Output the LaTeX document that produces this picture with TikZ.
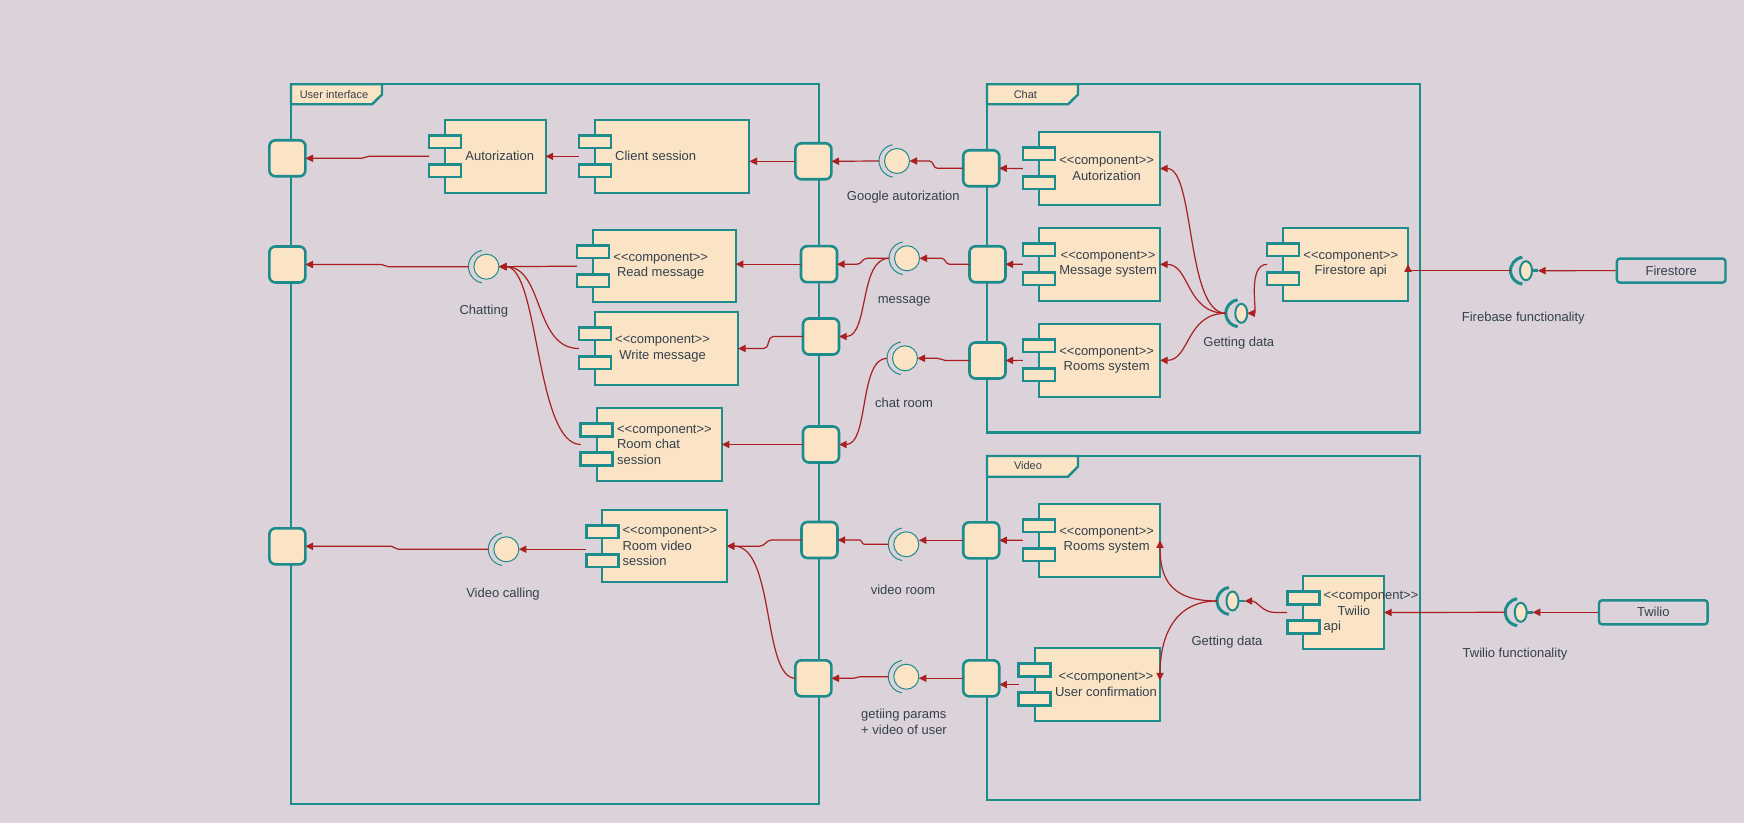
\documentclass[tikz,border=0pt]{standalone}
\usepackage{fontspec}
\setmainfont{Liberation Sans}
\usetikzlibrary{calc,arrows.meta,shapes.geometric}

\definecolor{bgmauve}{HTML}{DBD2DA}
\definecolor{uiteal}{HTML}{1C8C8C}
\definecolor{uibeige}{HTML}{FBE4C6}
\definecolor{uired}{HTML}{AA1F1F}
\definecolor{uitext}{HTML}{34404C}

\newcommand{\stereo}{<\kern0pt<component>\kern0pt>}

\tikzset{
	frame/.style={draw=uiteal, line width=1.2pt},
	tabbox/.style={draw=uiteal, fill=uibeige, line width=1.2pt},
	comp/.style={draw=uiteal, fill=uibeige, line width=1pt, inner sep=0pt, outer sep=0pt, minimum height=36.3pt},
	lug/.style={draw=uiteal, fill=uibeige, line width=1.3pt},
	port/.style={draw=uiteal, fill=uibeige, line width=1.3pt, rounded corners=3pt, minimum size=18pt, inner sep=0pt, outer sep=0pt},
	ball/.style={circle, draw=uiteal, fill=uibeige, line width=0.5pt, minimum size=12.5pt, inner sep=0pt, outer sep=0pt},
	bigball/.style={ellipse, draw=uiteal, fill=uibeige, line width=1pt, minimum width=6pt, minimum height=9.5pt, inner sep=0pt, outer sep=0pt},
	sock/.style={draw=uiteal, line width=0.5pt},
	bigsock/.style={draw=uiteal, line width=1.5pt},
	link/.style={draw=uired, line width=0.6pt, -{Triangle[length=3.8pt,width=3.6pt]}},
	txt/.style={text=uitext, font=\fontsize{6.5}{7.7}\selectfont, inner sep=0pt},
	tabtxt/.style={text=uitext, font=\fontsize{5.5}{6.6}\selectfont, inner sep=0pt},
	extbox/.style={draw=uiteal, fill=bgmauve, line width=1.2pt, rounded corners=1.5pt, minimum width=54.3pt, minimum height=12pt, inner sep=0pt, text=uitext, font=\fontsize{6.5}{7.7}\selectfont}
}

\begin{document}
\begin{tikzpicture}[x=0.5pt, y=-0.5pt]
	% Background
	\fill[bgmauve] (0,0) rectangle (1744,823);

	% Frames and their tabs
	\draw[frame] (291,84.3) rectangle (819,804); % user interface
	\draw[tabbox] (291,84.3) -- (382,84.3) -- (382,94.5) -- (372,104.3) -- (291,104.3) -- cycle;
	\node[tabtxt] (uitab) at (334,95) {User interface};
	\draw[frame] (987,84.3) rectangle (1420,432.3); % chat
	\draw[tabbox] (987,84.3) -- (1078,84.3) -- (1078,94.5) -- (1068,104.3) -- (987,104.3) -- cycle;
	\node[tabtxt] (chattab) at (1025.4,95) {Chat};
	\draw[frame] (987,456) rectangle (1420,800); % video
	\draw[tabbox] (987,456) -- (1078,456) -- (1078,466.5) -- (1068,476.7) -- (987,476.7) -- cycle;
	\node[tabtxt] (videotab) at (1028,466) {Video};

	% Ports on the frame edges
	\node[port] (L1) at (287.4,158.3) {};
	\node[port] (L2) at (287.4,264.5) {};
	\node[port] (L3) at (287.4,546.3) {};
	\node[port] (R1) at (813.4,161.3) {};
	\node[port] (R2) at (819,264.2) {};
	\node[port] (R3) at (821,336.5) {};
	\node[port] (R4) at (821,444.5) {};
	\node[port] (R5) at (819.5,540) {};
	\node[port] (R6) at (813.4,678.3) {};
	\node[port] (C1) at (981.2,168.3) {};
	\node[port] (C2) at (987.5,264.3) {};
	\node[port] (C3) at (987.5,360.5) {};
	\node[port] (V1) at (981.2,540.3) {};
	\node[port] (V2) at (981.2,678.3) {};

	% Component bodies
	\node[comp, minimum width=50.3pt] (uauth) at (495.3,156.35) {};
	\node[comp, minimum width=77.3pt] (client) at (672.1,156.35) {};
	\node[comp, minimum width=71.35pt] (readmsg) at (664.35,266.15) {};
	\node[comp, minimum width=71.6pt] (writemsg) at (666.4,348.5) {};
	\node[comp, minimum width=62.5pt] (roomchat) at (659.2,444.5) {};
	\node[comp, minimum width=62.3pt] (roomvideo) at (664.5,546.15) {};
	\node[comp, minimum width=60.55pt] (cauth) at (1099.45,168.5) {};
	\node[comp, minimum width=60.55pt] (msgsys) at (1099.45,264.35) {};
	\node[comp, minimum width=60.55pt] (croom) at (1099.45,360.35) {};
	\node[comp, minimum width=62.5pt] (fsapi) at (1345.5,264.35) {};
	\node[comp, minimum width=60.55pt] (vroom) at (1099.45,540.35) {};
	\node[comp, minimum width=62.7pt] (userconf) at (1097.3,684.5) {};
	\node[comp, minimum width=40.4pt] (twapi) at (1343.6,612.5) {};

	% the two small rectangles of every component
	\pgfmathsetmacro{\lugw}{32}
	\pgfmathsetmacro{\lugh}{12.5}
	\foreach \c in {uauth,client,readmsg,writemsg,roomchat,roomvideo,cauth,msgsys,croom,fsapi,vroom,userconf,twapi}{
		\draw[lug] ($(\c.north west)+(-16,15.5)$) rectangle ++(\lugw,\lugh);
		\draw[lug] ($(\c.north west)+(-16,44.5)$) rectangle ++(\lugw,\lugh);
	}

	% Component texts
	\node[txt, anchor=west] (uauth-t) at ($(uauth.west)+(20,0)$) {Autorization};
	\node[txt, anchor=west] (client-t) at ($(client.west)+(20,0)$) {Client session};
	\node[txt, anchor=west, align=center] (readmsg-t) at ($(readmsg.west)+(20,0)$) {\stereo\\Read message};
	\node[txt, anchor=west, align=center] (writemsg-t) at ($(writemsg.west)+(20,0)$) {\stereo\\Write message};
	\node[txt, anchor=west, align=left] (roomchat-t) at ($(roomchat.west)+(20,0)$) {\stereo\\Room chat\\session};
	\node[txt, anchor=west, align=left] (roomvideo-t) at ($(roomvideo.west)+(20,0)$) {\stereo\\Room video\\session};
	\node[txt, anchor=west, align=center] (cauth-t) at ($(cauth.west)+(20,0)$) {\stereo\\Autorization};
	\node[txt, anchor=west, align=center] (msgsys-t) at ($(msgsys.west)+(20,0)$) {\stereo\\Message system};
	\node[txt, anchor=west, align=center] (croom-t) at ($(croom.west)+(20,0)$) {\stereo\\Rooms system};
	\node[txt, anchor=west, align=center] (fsapi-t) at ($(fsapi.west)+(20,0)$) {\stereo\\Firestore api};
	\node[txt, anchor=west, align=center] (vroom-t) at ($(vroom.west)+(20,0)$) {\stereo\\Rooms system};
	\node[txt, anchor=west, align=center] (userconf-t) at ($(userconf.west)+(20,0)$) {\stereo\\User confirmation};
	\node[txt, anchor=west, align=left] (twapi-t) at ($(twapi.west)+(20,0)$) {\stereo\\\hspace*{7pt}Twilio\\api};

	% Outer systems
	\node[extbox] (firestore) at (1671.2,270.6) {Firestore};
	\node[extbox] (twilio) at (1653.3,612.3) {Twilio};

	% Interfaces, thin ones inside the user interface
	\node[ball] (chatting) at (486.4,266.7) {};
	\node[ball] (vcall) at (506.3,549.3) {};
	\node[ball] (gauth) at (897,161) {};
	\node[ball] (msgif) at (907,258.3) {};
	\node[ball] (roomif) at (905,358.3) {};
	\node[ball] (vroomif) at (906.3,544.3) {};
	\node[ball] (paramif) at (906.3,676.7) {};
	\foreach \i in {chatting,vcall,gauth,msgif,roomif,vroomif,paramif}{
		\draw[sock] ($(\i.center)+(-1.5,0)+(100:8.25pt)$) arc[start angle=100, end angle=260, radius=8.25pt];
		\coordinate (\i-s) at ($(\i.center)+(-18,0)$);
	}
	% thick ones
	\node[bigball] (getchat) at (1241.3,313.3) {};
	\node[bigball] (getvid) at (1232.5,601) {};
	\node[bigball] (fbif) at (1526,270.7) {};
	\node[bigball] (twif) at (1520.7,612.3) {};
	\foreach \i in {getchat,getvid,fbif,twif}{
		\draw[bigsock] ($(\i.center)+(-2,0)+(97:6.75pt)$) arc[start angle=97, end angle=263, radius=6.75pt];
		\coordinate (\i-s) at ($(\i.center)+(-15.5,0)$);
	}
	\foreach \i in {getvid,fbif,twif}{
		\draw[draw=uiteal, line width=1.2pt] (\i.east) -- ++(6,0) coordinate (\i-t);
	}

	% Interface labels
	\node[txt] (chatting-l) at (483.8,310.7) {Chatting};
	\node[txt] (vcall-l) at (503,594.3) {Video calling};
	\node[txt] (gauth-l) at (903.3,197.3) {Google autorization};
	\node[txt] (msgif-l) at (904.2,301.7) {message};
	\node[txt] (roomif-l) at (904,403.3) {chat room};
	\node[txt] (vroomif-l) at (903,590) {video room};
	\node[txt, align=left] (paramif-l) at (904,722) {getiing params\\+ video of user};
	\node[txt] (getchat-l) at (1238.8,342.7) {Getting data};
	\node[txt] (getvid-l) at (1227,642.3) {Getting data};
	\node[txt] (fbif-l) at (1523.3,318.3) {Firebase functionality};
	\node[txt] (twif-l) at (1515,654.3) {Twilio functionality};

	% Connectors in the user interface
	\draw[link] ($(uauth.west)+(-16,0)$) -- ++(-60,0) to[out=180,in=0] ($(L1.east)+(56,0)$) -- (L1.east);
	\draw[link] ($(client.west)+(-16,0)$) -- (uauth.east);
	\draw[link] (R1.west) -- (R1.west -| client.east);
	\draw[link] ($(readmsg.west)+(-16,0)$) -- (chatting.east);
	\draw[link] (chatting-s) -- ++(-80,0) to[out=180,in=0] ($(L2.east)+(76,0)$) -- (L2.east);
	\draw[link] ($(writemsg.west)+(-16,0)$) .. controls +(-45,0) and +(45,0) .. (chatting.east);
	\draw[link] ($(roomchat.west)+(-16,0)$) .. controls +(-45,0) and +(40,0) .. (chatting.east);
	\draw[link] (R2.west) -- (R2.west -| readmsg.east);
	\draw[link] (R3.west) -- ++(-30,0) to[out=180,in=0] ($(writemsg.east)+(26,0)$) -- (writemsg.east);
	\draw[link] (R4.west) -- (roomchat.east);
	\draw[link] (R5.west) -- ++(-30,0) to[out=180,in=0] ($(roomvideo.east)+(33,0)$) -- (roomvideo.east);
	\draw[link] ($(vcall.east -| roomvideo.west)+(-16,0)$) -- (vcall.east);
	\draw[link] (vcall-s) -- ++(-90,0) to[out=180,in=0] ($(L3.east)+(86,0)$) -- (L3.east);
	\draw[link] (R6.west) .. controls +(-33,0) and +(48,0) .. (roomvideo.east);

	% Connectors between the frames
	\draw[link] (gauth-s) -- (R1.east);
	\draw[link] (C1.west) -- ++(-26,0) to[out=180,in=0] ($(gauth.east)+(20,0)$) -- (gauth.east);
	\draw[link] (msgif-s) -- ++(-22,0) to[out=180,in=0] ($(R2.east)+(20,0)$) -- (R2.east);
	\draw[link] (msgif-s) .. controls +(-30,0) and +(30,0) .. (R3.east);
	\draw[link] (C2.west) -- ++(-20,0) to[out=180,in=0] ($(msgif.east)+(22,0)$) -- (msgif.east);
	\draw[link] (C3.west) -- ++(-24,0) to[out=180,in=0] ($(roomif.east)+(20,0)$) -- (roomif.east);
	\draw[link] (roomif-s) .. controls +(-28,0) and +(30,0) .. (R4.east);
	\draw[link] (V1.west) -- (V1.west -| vroomif.east);
	\draw[link] (vroomif-s) -- ++(-24,0) to[out=180,in=0] ($(R5.east)+(22,0)$) -- (R5.east);
	\draw[link] (V2.west) -- (V2.west -| paramif.east);
	\draw[link] (paramif-s) -- ++(-28,0) to[out=180,in=0] ($(R6.east)+(22,0)$) -- (R6.east);

	% Connectors in chat
	\draw[link] ($(cauth.west)+(-16,0)$) -- (C1.east);
	\draw[link] ($(msgsys.west)+(-16,0)$) -- (C2.east);
	\draw[link] ($(croom.west)+(-16,0)$) -- (C3.east);
	\draw[link] (getchat-s) .. controls +(-40,0) and +(35,0) .. (cauth.east);
	\draw[link] (getchat-s) .. controls +(-40,0) and +(30,0) .. (msgsys.east);
	\draw[link] (getchat-s) .. controls +(-40,0) and +(30,0) .. (croom.east);
	\draw[link] ($(fsapi.west)+(-16,0)$) .. controls +(-20,0) and +(10,0) .. (getchat.east);
	\draw[link] (fbif-s) -| (fsapi.east);
	\draw[link] (firestore.west) -- (fbif-t);

	% Connectors in video
	\draw[link] ($(vroom.west)+(-16,0)$) -- (V1.east);
	\draw[link] ($(userconf.west)+(-16,0)$) -- (V2.east |- userconf.west);
	\draw[link] (getvid-s) .. controls +(-45,0) and +(0,40) .. (vroom.east);
	\draw[link] (getvid-s) .. controls +(-45,0) and +(0,-40) .. ($(userconf.east)+(0,-4)$);
	\draw[link] ($(twapi.west)+(-16,0)$) -- ++(-12,0) to[out=180,in=0] (getvid-t);
	\draw[link] (twif-s) -- (twapi.east);
	\draw[link] (twilio.west) -- (twif-t);
\end{tikzpicture}
\end{document}
